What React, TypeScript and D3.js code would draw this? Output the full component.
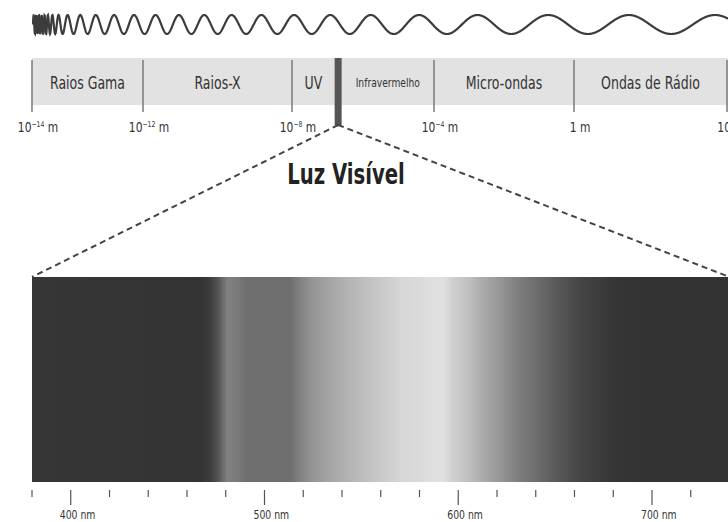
import React from 'react';
import * as d3 from 'd3';

// bands of the electromagnetic spectrum, by log10 of the wavelength in metres
const bandNames = ['Raios Gama', 'Raios-X', 'UV', 'Infravermelho', 'Micro-ondas', 'Ondas de Rádio'];
const bandFrom = [-14, -12, -8, -6.7, -4, 0];
const bandTo = [-12, -8, -6.7, -4, 0, 6];
const visibleExp = -6.7;

const edgeExps = [-14, -12, -8, -4, 0, 6];
const edgeBase = ['10', '10', '10', '10', '1', '10'];
const edgePow = ['-14', '-12', '-8', '-4', '', '6'];

// local period of the decorative wave (px)
const waveKnotX = [33, 45, 55, 70, 100, 150, 250, 350, 550, 728];
const wavePeriod = [2.5, 3, 6, 12, 18, 22, 30, 40, 78, 90];

// visible light strip
const nmTicks = d3.range(380, 740, 20);
const nmMajor = [400, 500, 600, 700];
const stopNm = [380, 456, 467, 472, 476, 479, 481, 486, 491, 513, 518, 525, 534, 543, 553, 563, 570, 580, 587, 592, 597, 605, 613, 622, 630, 639, 647, 656, 664, 673, 680, 694, 740];
const stopGray = [0x36, 0x34, 0x33, 0x3c, 0x55, 0x70, 0x80, 0x7a, 0x6e, 0x6e, 0x80, 0x95, 0xa5, 0xb3, 0xc0, 0xcc, 0xd6, 0xda, 0xe0, 0xe0, 0xd0, 0xc0, 0xaa, 0x95, 0x80, 0x70, 0x60, 0x50, 0x44, 0x3c, 0x35, 0x33, 0x33];

const W = 728;
const H = 522;
const font = "'Liberation Sans Narrow', 'DejaVu Sans Condensed', 'Roboto Condensed', sans-serif";

const App: React.FC = () => {
  const xe = d3.scaleLinear().domain(edgeExps).range([32, 143, 292, 434, 574, 727]);
  const xn = d3.scaleLinear().domain([380, 740]).range([32, 729.5]);

  // chirped wave
  const periodAt = d3.scaleLinear().domain(waveKnotX).range(wavePeriod).clamp(true);
  const pts: [number, number][] = [];
  let phase = 0;
  for (let x = 33; x <= W; x += 0.25) {
    pts.push([x, 24.5 - 9.5 * Math.sin(phase)]);
    phase += (2 * Math.PI * 0.25) / periodAt(x);
  }
  const wave = d3.line()(pts) || '';

  const bandTop = 58;
  const bandBottom = 105;
  const specTop = 277;
  const specBottom = 482;
  const visX = xe(visibleExp);
  const gray = (g: number) => d3.rgb(g, g, g).toString();

  return (
    <svg width={W} height={H} style={{ position: 'absolute', left: 0, top: 0, background: '#fff' }} fontFamily={font}>
      <defs>
        <linearGradient id="spec" gradientUnits="userSpaceOnUse" x1={xn(380)} x2={xn(740)} y1={0} y2={0}>
          {stopNm.map((nm, i) => (
            <stop key={i} offset={(nm - 380) / 360} stopColor={gray(stopGray[i])} />
          ))}
        </linearGradient>
      </defs>

      <path d={wave} fill="none" stroke="#3c3c3c" strokeWidth={2.2} />

      <rect x={xe(-14)} y={bandTop} width={W - xe(-14)} height={bandBottom - bandTop} fill="#e2e2e2" />
      {edgeExps.map((e, i) => (
        <line key={i} x1={xe(e)} x2={xe(e)} y1={bandTop + 2} y2={112} stroke="#7a7a7a" strokeWidth={1.5} />
      ))}
      <rect x={visX - 3.5} y={bandTop} width={7} height={125 - bandTop} fill="#555" />

      {bandNames.map((name, i) => {
        const a = i === 3 ? visX + 3.5 : xe(bandFrom[i]);
        const b = i === 2 ? visX - 3.5 : xe(bandTo[i]);
        const small = name === 'Infravermelho';
        return (
          <text key={name} transform={`translate(${(a + b) / 2},${small ? 87 : 89}) scale(${small ? 0.85 : 0.82},1)`} textAnchor="middle" fontSize={small ? 12 : 17} fill="#333">
            {name}
          </text>
        );
      })}

      {edgeExps.map((e, i) => (
        <text key={i} transform={`translate(${xe(e) + 6},132) scale(0.85,1)`} textAnchor="middle" fontSize={14} fill="#333">
          {edgeBase[i]}
          {edgePow[i] && (
            <tspan fontSize={8} dy={-5}>{edgePow[i].replace('-', '\u2212')}</tspan>
          )}
          <tspan dy={edgePow[i] ? 5 : 0}>{' m'}</tspan>
        </text>
      ))}

      <line x1={visX} y1={125} x2={xn(380)} y2={specTop} stroke="#444" strokeWidth={2} strokeDasharray="6 4" />
      <line x1={visX} y1={125} x2={xn(740)} y2={specTop} stroke="#444" strokeWidth={2} strokeDasharray="6 4" />

      <text transform="translate(346,184) scale(0.78,1)" textAnchor="middle" fontSize={28} fontWeight="bold" fill="#222">
        Luz Visível
      </text>

      <rect x={xn(380)} y={specTop} width={xn(740) - xn(380)} height={specBottom - specTop} fill="url(#spec)" />

      {nmTicks.map(t => {
        const major = nmMajor.includes(t);
        return (
          <line key={t} x1={xn(t)} x2={xn(t)} y1={490} y2={major ? 505 : 497} stroke="#555" strokeWidth={1.2} />
        );
      })}
      {nmMajor.map(t => (
        <text key={t} transform={`translate(${xn(t) - 11},519) scale(0.9,1)`} fontSize={11.5} fill="#333">
          {`${t} nm`}
        </text>
      ))}
    </svg>
  );
};

export default App;
